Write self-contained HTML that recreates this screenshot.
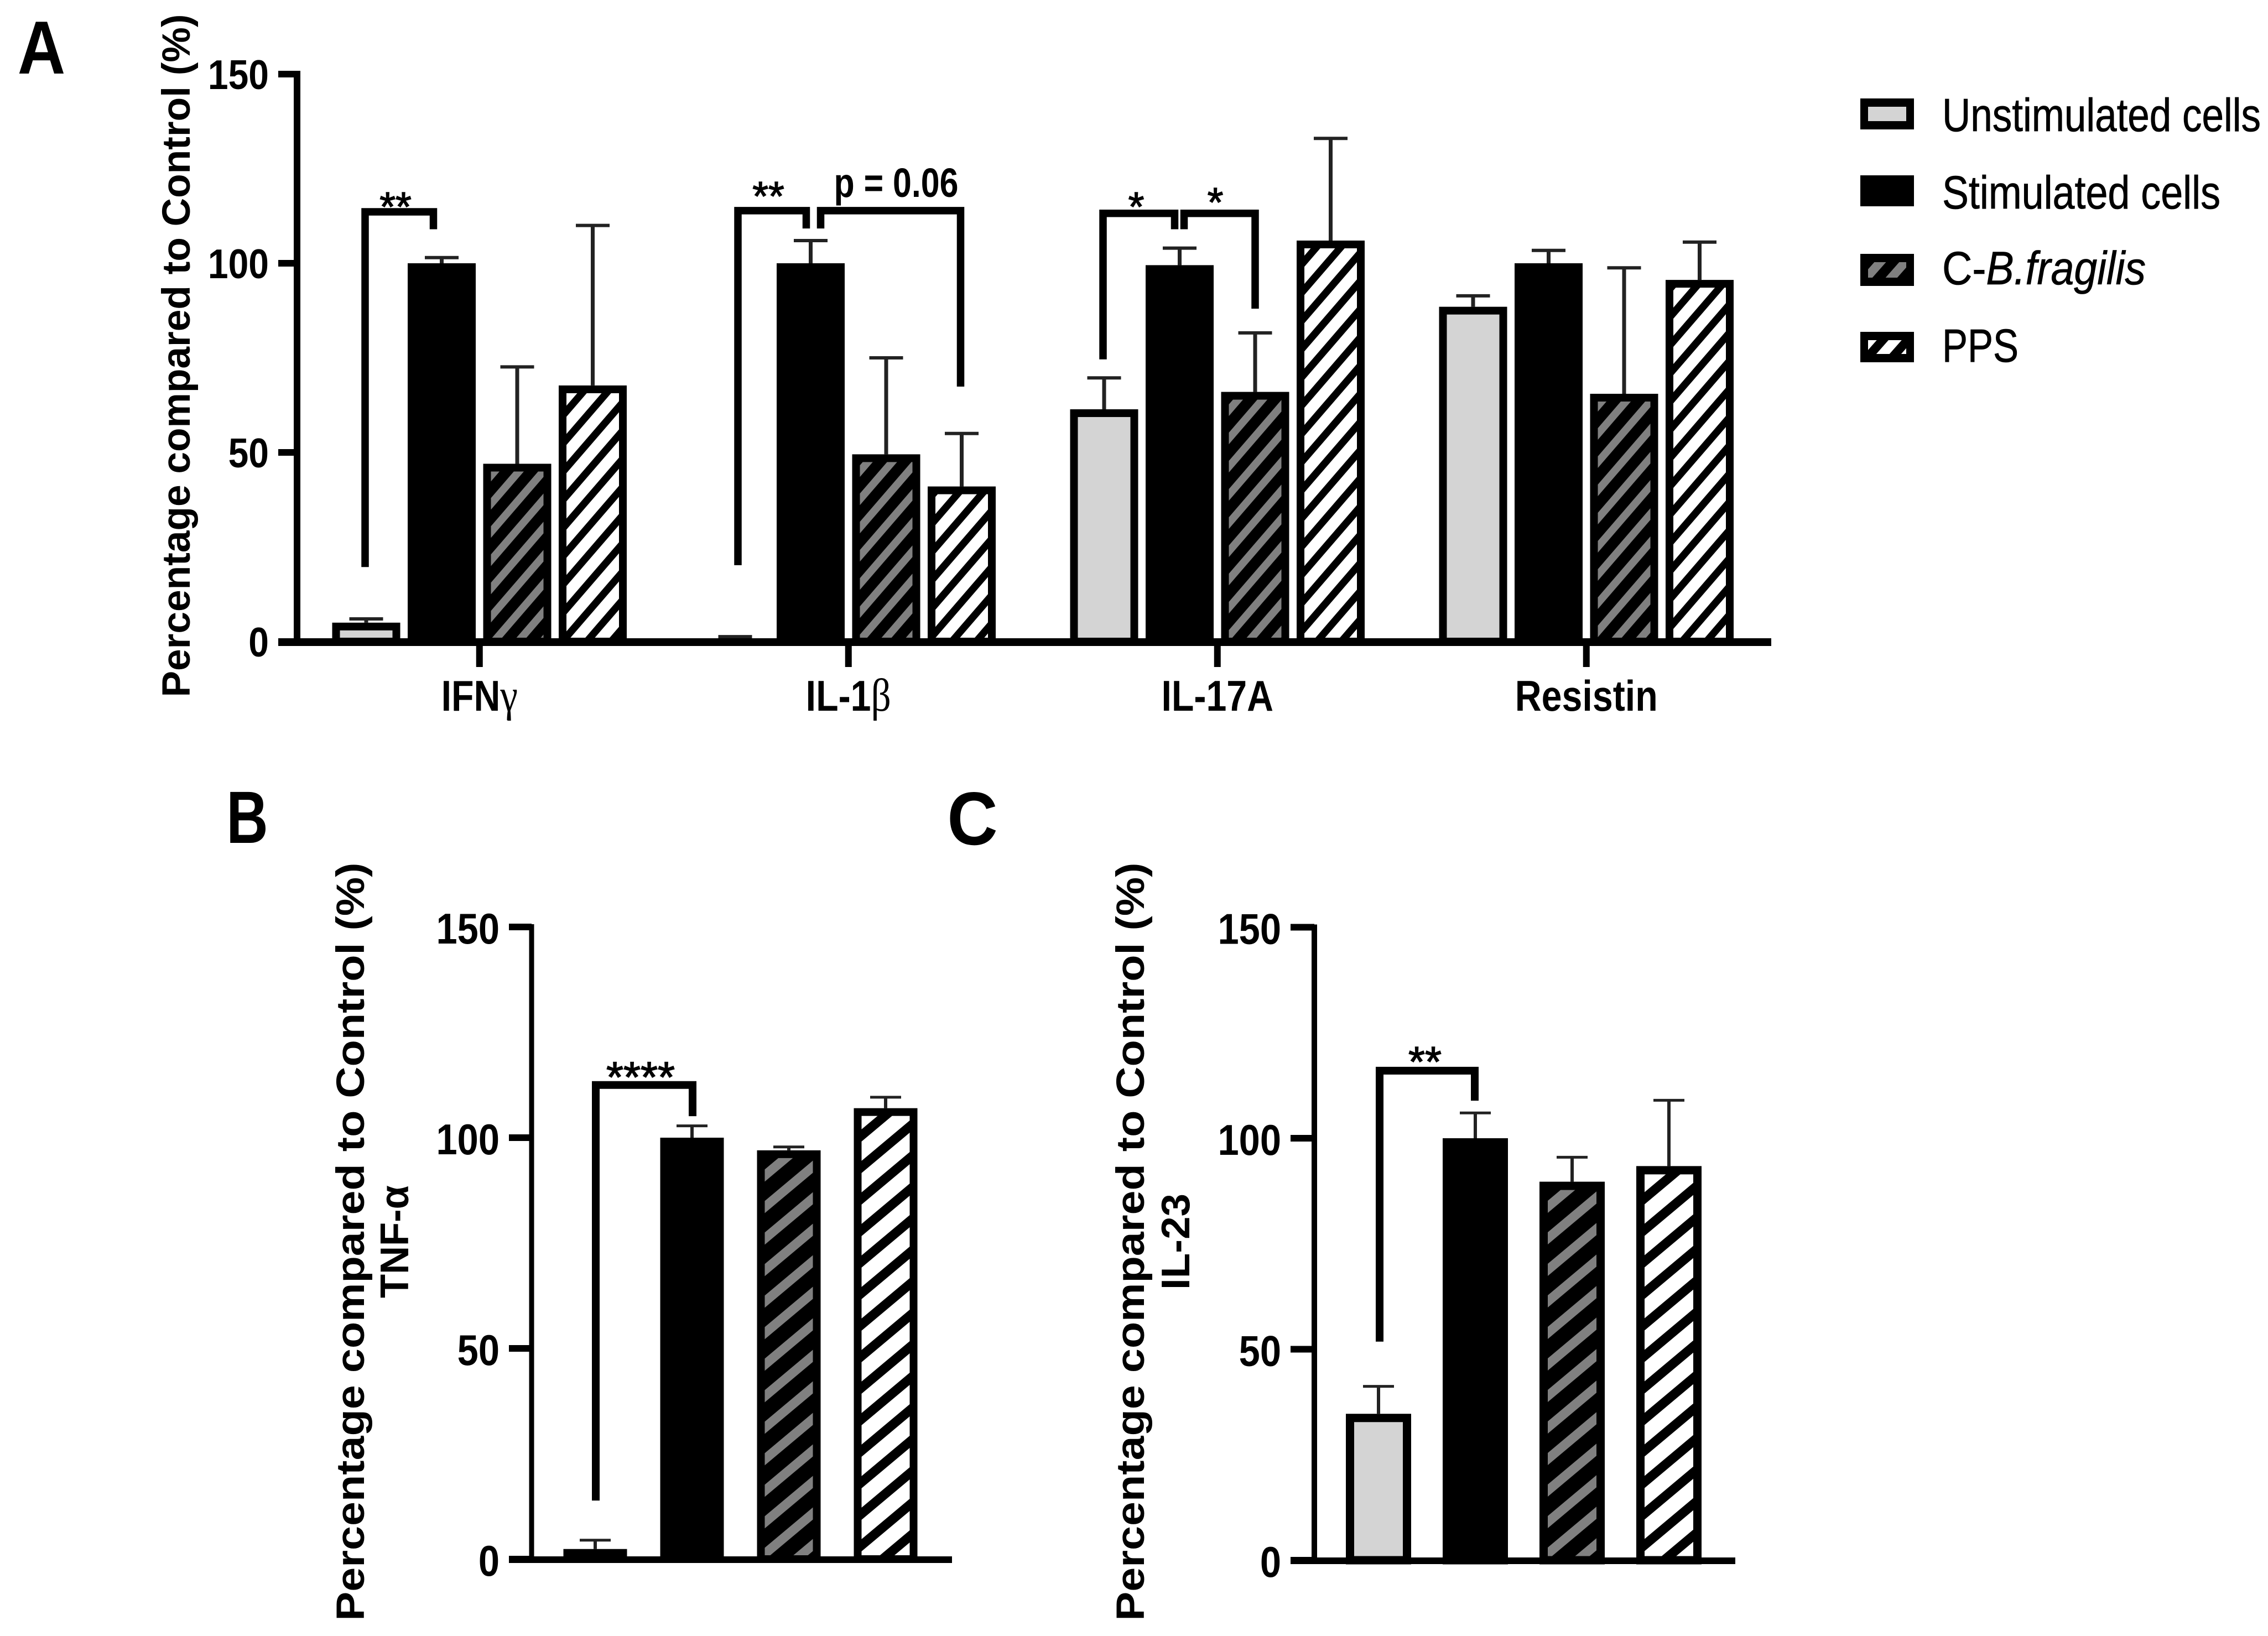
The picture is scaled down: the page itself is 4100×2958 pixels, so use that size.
<!DOCTYPE html>
<html lang="en">
<head>
<meta charset="utf-8">
<title>Cytokine percentage compared to control</title>
<style>
html,body{margin:0;padding:0;background:#fff;}
svg{display:block;}
text{font-family:"Liberation Sans",sans-serif;fill:#000;}
</style>
</head>
<body>
<svg id="figure" xmlns="http://www.w3.org/2000/svg" width="4100" height="2958" viewBox="0 0 4100 2958">
<defs id="defs"></defs>
<rect width="4100" height="2958" fill="#fff"></rect>
</svg>
<script>
// ---- chart data ----
const yTicks = [0, 50, 100, 150];
const seriesNames = ['unstimulated', 'stimulated', 'c-b-fragilis', 'pps'];

const categoriesA = ['IFN', 'IL-1', 'IL-17A', 'Resistin'];
const categorySymbolsA = ['γ', 'β', '', ''];
const unstimulatedA = [5, 0.4, 61.4, 88.5];
const stimulatedA = [100, 100, 99.5, 100];
const cBfragilisA = [47, 49.5, 66, 65.5];
const ppsA = [67.7, 41, 106, 95.6];
const unstimulatedErrTopA = [6, 1.3, 69.7, 91.4];
const stimulatedErrTopA = [101.5, 106, 104, 103.4];
const cBfragilisErrTopA = [72.6, 75, 81.6, 98.8];
const ppsErrTopA = [110, 55, 133, 105.6];

const valuesB = [2.4, 100, 97, 107];
const errTopB = [4.5, 102.8, 97.8, 109.6];
const valuesC = [34.7, 100, 89.7, 93.4];
const errTopC = [41.2, 106, 95.5, 109];

const legendLabels = ['Unstimulated cells', 'Stimulated cells', 'C-', 'PPS'];

// ---- layout (separate from data) ----
const panelA = {y0:1160, unit:6.84, axisX:537, axisW:12, axisH:14, tickL:503, xEnd:3202, first:662, groupStep:667, barStep:136.5, barW:123, sw:14, capW:61, stemW:7, capH:6, fill:['#d4d4d4','#000','url(#hatchGreyA)','url(#hatchWhiteA)']};
const panelB = {y0:2819, unit:7.62, axisX:961, axisW:9, axisH:12, tickL:920, xEnd:1721, first:1076, groupStep:0, barStep:175, barW:115, sw:14, capW:56, stemW:6, capH:5, fill:['#d4d4d4','#000','url(#hatchGreyB)','url(#hatchWhiteB)']};
const panelC = {y0:2821, unit:7.63, axisX:2376, axisW:10, axisH:12, tickL:2333, xEnd:3137, first:2492, groupStep:0, barStep:175, barW:118, sw:15, capW:56, stemW:6, capH:5, fill:['#d4d4d4','#000','url(#hatchGreyC)','url(#hatchWhiteC)']};

function yScale(p, v){ return p.y0 - v * p.unit; }
function xScale(p, group, bar){ return p.first + group * p.groupStep + bar * p.barStep; }

const NS = 'http://www.w3.org/2000/svg';
const root = document.getElementById('figure');
const defs = document.getElementById('defs');

function make(tag, parent, attrs){
  const el = document.createElementNS(NS, tag);
  for (const k in attrs) el.setAttribute(k, attrs[k]);
  (parent || root).appendChild(el);
  return el;
}
function label(parent, str, x, y, size, opts){
  const o = opts || {};
  const rot = o.rotate ? ' rotate(-90)' : '';
  const attrs = {transform:'translate(' + x + ',' + y + ')' + rot + ' scale(' + (o.sx || 1) + ',1)', 'font-size':size, 'text-anchor':o.anchor || 'middle', 'font-weight':o.weight || 'bold'};
  if (o.len){ attrs.textLength = o.len; attrs.lengthAdjust = 'spacingAndGlyphs'; }
  if (o.thick){ attrs.stroke = '#000'; attrs['stroke-width'] = o.thick; }
  const el = make('text', parent, attrs);
  el.textContent = str;
  return el;
}
function hatch(id, w, h, bg, fg, t, ox, oy){
  const pat = make('pattern', defs, {id:id, patternUnits:'userSpaceOnUse', width:w, height:h, x:ox, y:oy});
  make('rect', pat, {width:w, height:h, fill:bg});
  [-h, 0, h].forEach(function(s){
    make('polygon', pat, {fill:fg, points:[[0, h + s - t/2], [w, s - t/2], [w, s + t/2], [0, h + s + t/2]].map(function(q){return q.join(',');}).join(' ')});
  });
}
hatch('hatchGreyA', 44, 51, '#000', '#808080', 21, 884, 915);
hatch('hatchWhiteA', 44, 51, '#fff', '#000', 20, 1021, 747);
hatch('hatchGreyB', 68, 57, '#000', '#808080', 22, 1383, 2125);
hatch('hatchWhiteB', 68, 57, '#fff', '#000', 22, 1555, 2112);
hatch('hatchGreyC', 68, 57, '#000', '#808080', 22, 2798, 2125);
hatch('hatchWhiteC', 68, 57, '#fff', '#000', 22, 2970, 2112);
hatch('hatchGreyLegend', 45, 51, '#000', '#808080', 24, 3376, 500);
hatch('hatchWhiteLegend', 45, 51, '#fff', '#000', 24, 3376, 646);

function drawBar(group, p, g, s, value, errTop){
  const cx = xScale(p, g, s);
  const top = yScale(p, value);
  const ey = yScale(p, errTop);
  const stem = make('line', group, {x1:cx, x2:cx, y1:top, y2:ey, stroke:'#222', 'stroke-width':p.stemW});
  
  
  const cap = make('line', group, {x1:cx - p.capW/2, x2:cx + p.capW/2, y1:ey, y2:ey, stroke:'#222', 'stroke-width':p.capH});
  
  
  const h = Math.max(0, p.y0 - top - p.sw/2);
  const bar = make('rect', group, {x:cx - p.barW/2 + p.sw/2, y:top + p.sw/2, width:p.barW - p.sw, height:h, fill:p.fill[s], stroke:'#000', 'stroke-width':p.sw});
  
  
}
function drawAxes(group, p, tickSize, tickRight, tickSx, tickDy){
  const yAxis = make('rect', group, {x:p.axisX - p.axisW/2, y:yScale(p, 150) - p.axisH/2 + 1, width:p.axisW, height:p.y0 - yScale(p, 150) + p.axisH/2, fill:'#000'});
  
  
  const xAxis = make('rect', group, {x:p.tickL, y:p.y0 - p.axisH/2 + 1, width:p.xEnd - p.tickL, height:p.axisH, fill:'#000'});
  
  
  yTicks.forEach(function(t){
    const mark = make('rect', group, {x:p.tickL, y:yScale(p, t) - 6, width:p.axisX - p.tickL, height:12, fill:'#000'});
    
    
    const txt = label(group, String(t), tickRight, yScale(p, t) + tickDy, tickSize, {anchor:'end', sx:tickSx});
    
    
  });
}
function bracket(group, p, sw, a, b){
  const x1 = xScale(p, a.g, a.s) + a.dx;
  const x2 = xScale(p, b.g, b.s) + b.dx;
  const pts = [[x1, yScale(p, a.low)], [x1, yScale(p, a.top)], [x2, yScale(p, a.top)], [x2, yScale(p, b.low)]];
  const line = make('polyline', group, {points:pts.map(function(q){return q.join(',');}).join(' '), fill:'none', stroke:'#000', 'stroke-width':sw, 'stroke-linejoin':'miter'});
  
  
}
function stars(group, str, x, y, size, len){
  const el = label(group, str, x, y, size, {weight:'normal', len:len, thick:1.5});
  
  
}

// ---- panel A ----
const gA = make('g');


const valuesA = [unstimulatedA, stimulatedA, cBfragilisA, ppsA];
const errsA = [unstimulatedErrTopA, stimulatedErrTopA, cBfragilisErrTopA, ppsErrTopA];
categoriesA.forEach(function(cat, g){
  valuesA.forEach(function(series, s){ drawBar(gA, panelA, g, s, series[g], errsA[s][g]); });
});
drawAxes(gA, panelA, 75, 486, 0.88, 27);
categoriesA.forEach(function(cat, g){
  const cx = xScale(panelA, g, 1.5);
  const tick = make('rect', gA, {x:cx - 6, y:panelA.y0, width:12, height:46, fill:'#000'});
  
  
  const txt = label(gA, cat, cx, 1285, 78, {sx:0.85});
  
  
  if (categorySymbolsA[g]){
    const sym = make('tspan', txt, {'font-family':'"Liberation Serif",serif', 'font-weight':'normal', 'font-size':84});
    sym.textContent = categorySymbolsA[g];
  }
});
const titleA = label(gA, 'Percentage compared to Control (%)', 343, 643, 71, {rotate:true, len:1235});


bracket(gA, panelA, 13.5, {g:0, s:0, dx:-2, low:19.7, top:113.6}, {g:0, s:1, dx:-15, low:109});
bracket(gA, panelA, 13.5, {g:1, s:0, dx:5, low:20.2, top:113.9}, {g:1, s:1, dx:-8, low:109.2});
bracket(gA, panelA, 13.5, {g:1, s:1, dx:18, low:109.2, top:113.9}, {g:1, s:3, dx:-2, low:67.4});
bracket(gA, panelA, 13.5, {g:2, s:0, dx:-2, low:74.6, top:113.2}, {g:2, s:1, dx:-9, low:109});
bracket(gA, panelA, 13.5, {g:2, s:1, dx:8, low:109, top:113.2}, {g:2, s:2, dx:0, low:88});
stars(gA, '**', 715, 399, 74);
stars(gA, '**', 1389, 380, 74);
stars(gA, '*', 2054, 399, 74);
stars(gA, '*', 2197, 391, 74);
const pValue = label(gA, 'p = 0.06', 1620, 356, 74, {len:225});


const letterA = label(gA, 'A', 75, 133, 136, {sx:0.88});



// ---- panel B ----
const gB = make('g');


valuesB.forEach(function(v, s){ drawBar(gB, panelB, 0, s, v, errTopB[s]); });
drawAxes(gB, panelB, 78, 903, 0.88, 30);
const titleB = label(gB, 'Percentage compared to Control (%)', 658, 2245, 71, {rotate:true, len:1371});


const subB = label(gB, 'TNF-α', 738, 2245, 72, {rotate:true, len:204});


bracket(gB, panelB, 14, {g:0, s:0, dx:1, low:13.9, top:112.5}, {g:0, s:1, dx:1, low:105.1});
stars(gB, '****', 1158, 1974, 78, 124);
const letterB = label(gB, 'B', 447, 1524, 134, {sx:0.78});



// ---- panel C ----
const gC = make('g');


valuesC.forEach(function(v, s){ drawBar(gC, panelC, 0, s, v, errTopC[s]); });
drawAxes(gC, panelC, 78, 2316, 0.88, 30);
const titleC = label(gC, 'Percentage compared to Control (%)', 2068, 2245, 71, {rotate:true, len:1371});


const subC = label(gC, 'IL-23', 2150, 2245, 72, {rotate:true, len:174});


bracket(gC, panelC, 14, {g:0, s:0, dx:2, low:51.8, top:116}, {g:0, s:1, dx:-1, low:108.9});
stars(gC, '**', 2576, 1946, 77);
const letterC = label(gC, 'C', 1758, 1527, 136, {sx:0.93});



// ---- legend ----
const gL = make('g');


const swatchBoxes = [[178, 56], [317, 56], [459, 58], [600, 55]];
const swatchFills = ['#d4d4d4', '#000', 'url(#hatchGreyLegend)', 'url(#hatchWhiteLegend)'];
const textBaselines = [237, 377, 514, 654];
const legendWidths = [576, 503, 368, 138];
legendLabels.forEach(function(name, i){
  const box = make('rect', gL, {x:3363, y:swatchBoxes[i][0], width:97, height:swatchBoxes[i][1], fill:'#000'});
  
  
  const inner = make('rect', gL, {x:3377, y:swatchBoxes[i][0] + 15, width:69, height:swatchBoxes[i][1] - 30, fill:swatchFills[i]});
  
  
  const txt = label(gL, name, 3511, textBaselines[i], 84, {anchor:'start', weight:'normal', sx:0.85, len:legendWidths[i] / 0.85, thick:0.8});
  
  
  if (i === 2){
    const ital = make('tspan', txt, {'font-style':'italic'});
    ital.textContent = 'B.fragilis';
  }
});
</script>
</body>
</html>
